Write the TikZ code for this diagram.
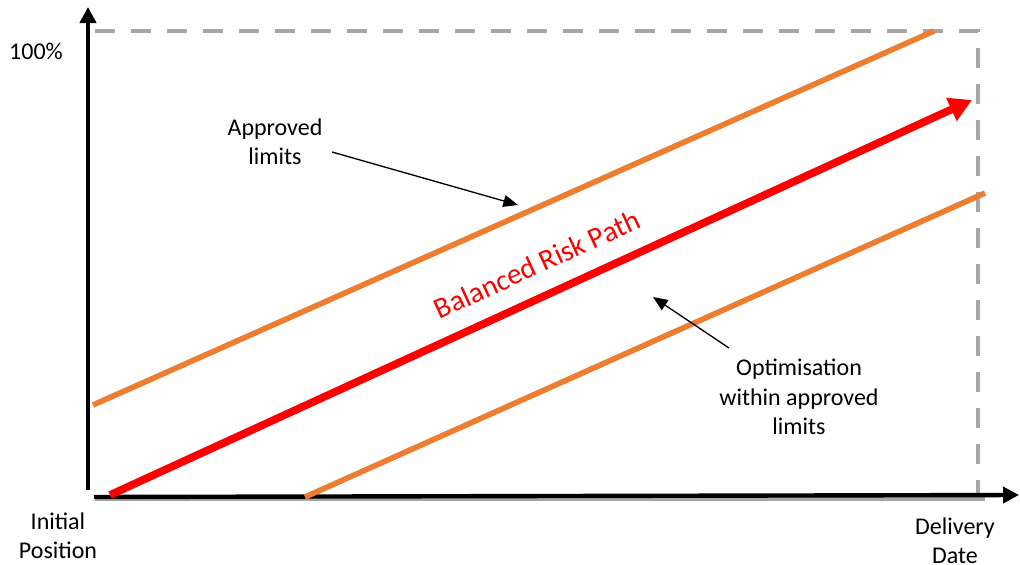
\documentclass[tikz,border=0pt]{standalone}
\usepackage{fontspec}
\setmainfont{Carlito}
\usetikzlibrary{arrows.meta}
\definecolor{lineorange}{HTML}{ED7D31}
\definecolor{guidegray}{HTML}{A6A6A6}
\begin{document}
\begin{tikzpicture}[x=0.75pt,y=-0.75pt,
  axis/.style={line width=3.3pt,-{Triangle[length=12pt,width=12pt]}},
  guide/.style={draw=guidegray,line width=2.4pt,dash pattern=on 15pt off 12pt},
  limit/.style={draw=lineorange,line width=4.2pt},
  riskpath/.style={draw=red,line width=5.8pt,-{Triangle[length=17pt,width=18pt]}},
  pointer/.style={draw=black,line width=1pt,-{Triangle[length=11pt,width=9pt]}},
  lbl/.style={font=\fontsize{18}{22}\selectfont,align=center,inner sep=0pt}]
\useasboundingbox (0,0) rectangle (1020,564);
% coordinates
\coordinate (ytop) at (88,7);
\coordinate (yfoot) at (88,490);
\coordinate (xstart) at (94,497);
\coordinate (xend) at (1019,495);
\coordinate (gtl) at (95,31);
\coordinate (gtr) at (978,31);
\coordinate (gbr) at (978,497);
\coordinate (gbl) at (95,499);
\coordinate (gbe) at (985,499);
\coordinate (upA) at (93,405);
\coordinate (upB) at (934,31);
\coordinate (loA) at (305,497);
\coordinate (loB) at (985,193);
\coordinate (rA) at (110,495);
\coordinate (rB) at (972,100);
\coordinate (apS) at (332,152);
\coordinate (apE) at (518,205);
\coordinate (opS) at (729,348);
\coordinate (opE) at (653,297);
% guide rectangle
\draw[guide] (gtl) -- (gtr) -- (gbr);
\draw[draw=guidegray,line width=2.4pt] (gbl) -- (gbe);
% axes
\draw[axis] (yfoot) -- (ytop);
\draw[axis] (xstart) -- (xend);
% limits
\draw[limit] (upA) -- (upB);
\draw[limit] (loA) -- (loB);
% risk path
\draw[riskpath] (rA) -- (rB);
% labels
\node[lbl] (pct) at (36,51) {100\%};
\node[lbl] (appr) at (275,142) {Approved\\limits};
\node[lbl] (opt) at (799,397) {Optimisation\\within approved\\limits};
\node[lbl] (init) at (58,536) {Initial\\Position};
\node[lbl] (deliv) at (955,541) {Delivery\\Date};
\node[font=\fontsize{22}{26}\selectfont,text=red,rotate=24.6,inner sep=0pt] (brp) at (537,264) {Balanced Risk Path};
% pointers
\draw[pointer] (apS) -- (apE);
\draw[pointer] (opS) -- (opE);
\end{tikzpicture}
\end{document}
